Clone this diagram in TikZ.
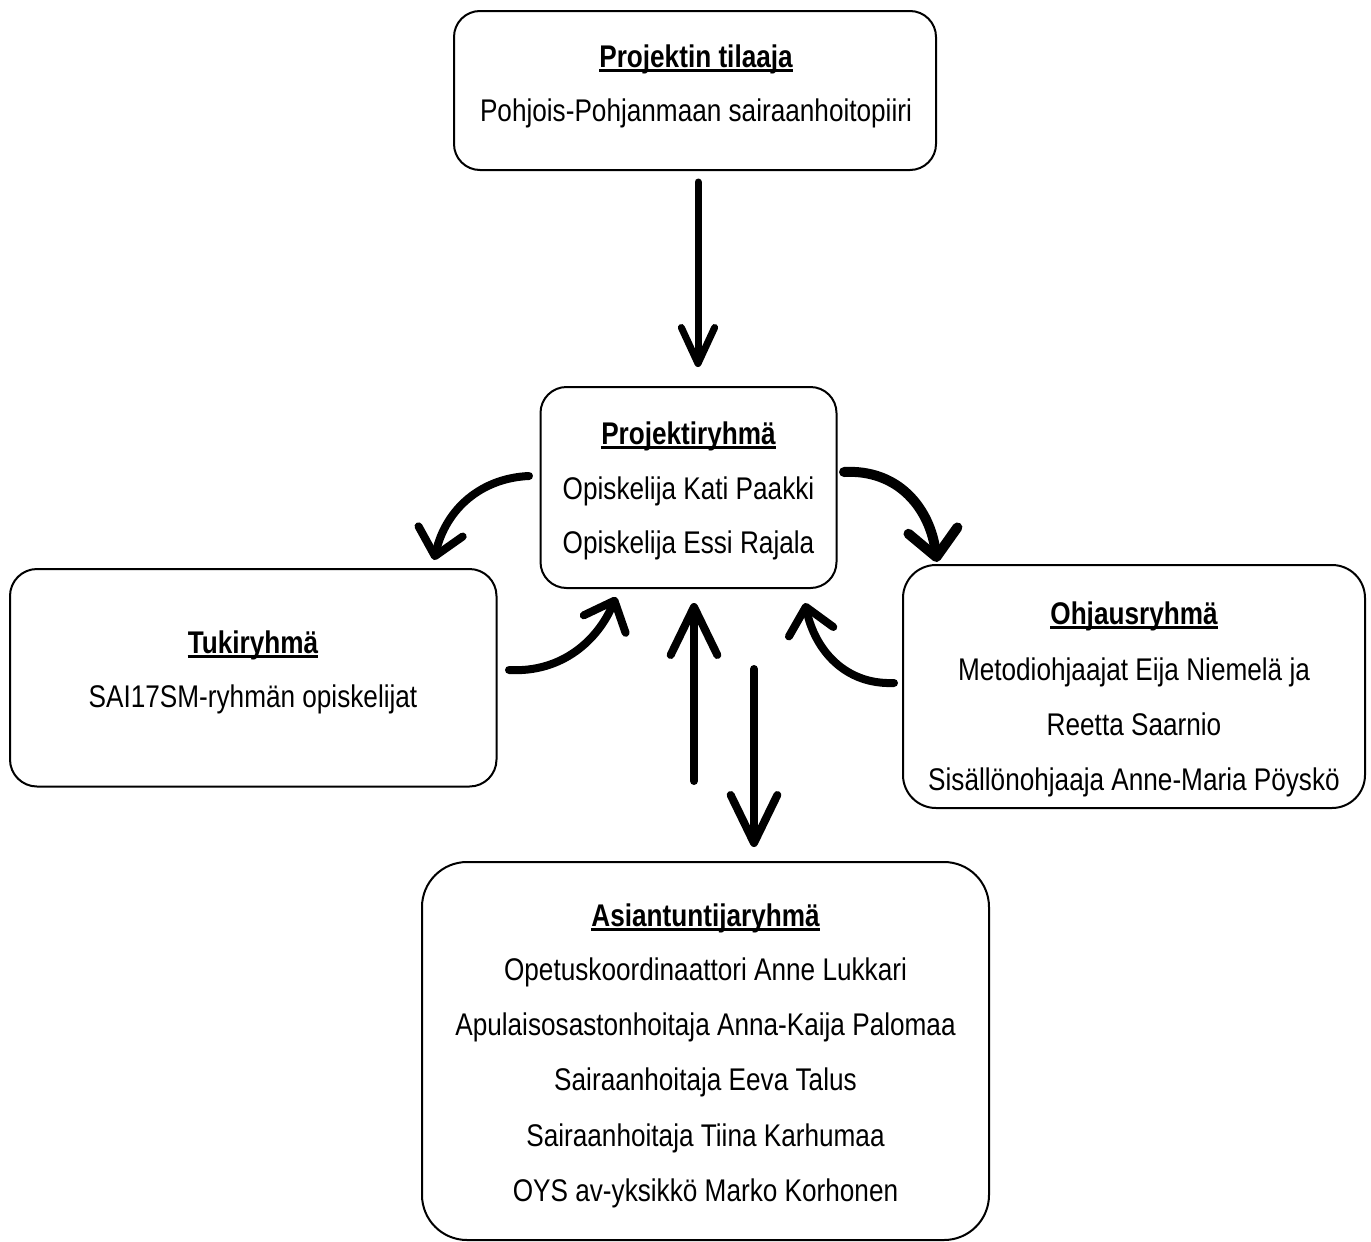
\documentclass[tikz,border=0pt]{standalone}
\usepackage{fontspec}
\setmainfont{Liberation Sans}[FakeStretch=0.835]
\usetikzlibrary{arrows.meta}
\begin{document}
\begin{tikzpicture}[x=0.75pt,y=-0.75pt,
  font=\fontsize{23.5pt}{27pt}\selectfont,
  box/.style={draw=black, line width=1.5pt, fill=white, inner sep=0pt},
  txt/.style={anchor=base, inner sep=0pt},
  ttl/.style={anchor=base, inner sep=0pt, font=\fontsize{23.5pt}{27pt}\selectfont\bfseries},
  uline/.style={line width=2pt},
  sarr/.style={line width=6pt, line cap=round, -{Straight Barb[round, length=36pt, width=35pt]}},
  tarr/.style={line width=5.25pt, line cap=round, -{Straight Barb[round, length=27pt, width=25pt]}},
  carr/.style={line width=6pt, line cap=round, -{Straight Barb[round, length=19pt, width=34pt]}},
  cthick/.style={line width=7.5pt, line cap=round, -{Straight Barb[round, length=20pt, width=37pt]}}
]
\useasboundingbox (0,0) rectangle (1371,1242);

% boxes
\node[box, minimum width=361.5pt, minimum height=119.25pt, rounded corners=19.5pt] (tilaaja) at (695,90.5) {};
\node[box, minimum width=222pt, minimum height=150.75pt, rounded corners=19.5pt] (proj) at (688.5,487.5) {};
\node[box, minimum width=364.875pt, minimum height=163.125pt, rounded corners=20.25pt] (tuki) at (253.25,677.75) {};
\node[box, minimum width=346.5pt, minimum height=182.25pt, rounded corners=24.75pt] (ohj) at (1134,686.5) {};
\node[box, minimum width=425.25pt, minimum height=283.5pt, rounded corners=33.75pt] (asi) at (705.5,1051) {};

% texts
\node[ttl] (tilaajaT) at (696,67) {Projektin tilaaja};
\node[txt] (tilaaja1) at (696,121.7) {Pohjois-Pohjanmaan sairaanhoitopiiri};

\node[ttl] (projT) at (688.5,444) {Projektiryhmä};
\node[txt] (proj1) at (688.5,499) {Opiskelija Kati Paakki};
\node[txt] (proj2) at (688.5,553) {Opiskelija Essi Rajala};

\node[ttl] (tukiT) at (253,653) {Tukiryhmä};
\node[txt] (tuki1) at (253,707) {SAI17SM-ryhmän opiskelijat};

\node[ttl] (ohjT) at (1134,624) {Ohjausryhmä};
\node[txt] (ohj1) at (1134,680) {Metodiohjaajat Eija Niemelä ja};
\node[txt] (ohj2) at (1134,735) {Reetta Saarnio};
\node[txt] (ohj3) at (1134,790) {Sisällönohjaaja Anne-Maria Pöyskö};

\node[ttl] (asiT) at (705.5,926) {Asiantuntijaryhmä};
\node[txt] (asi1) at (705.5,980) {Opetuskoordinaattori Anne Lukkari};
\node[txt] (asi2) at (705.5,1035) {Apulaisosastonhoitaja Anna-Kaija Palomaa};
\node[txt] (asi3) at (705.5,1090) {Sairaanhoitaja Eeva Talus};
\node[txt] (asi4) at (705.5,1146) {Sairaanhoitaja Tiina Karhumaa};
\node[txt] (asi5) at (705.5,1201) {OYS av-yksikkö Marko Korhonen};

\foreach \n in {tilaajaT,projT,tukiT,ohjT,asiT}
  \draw[uline] ([yshift=-2.8pt]\n.base west) -- ([yshift=-2.8pt]\n.base east);

% arrow end points
\coordinate (a0s) at (698,182);
\coordinate (a0e) at (698,367);
\coordinate (upS) at (694,781);
\coordinate (upE) at (694,603);
\coordinate (dnS) at (754,669);
\coordinate (dnE) at (754,847);
\coordinate (lS) at (529,476);
\coordinate (lE) at (434,560);
\coordinate (rS) at (844,472);
\coordinate (rE) at (937,562);
\coordinate (tS) at (509,670);
\coordinate (tE) at (616,597);
\coordinate (oS) at (894,683);
\coordinate (oE) at (805,603);

% arrows
\draw[tarr] (a0s) -- (a0e);
\draw[sarr] (upS) -- (upE);
\draw[sarr] (dnS) -- (dnE);
\draw[carr] (lS) .. controls (482,478) and (446,508) .. (lE);
\draw[cthick] (rS) .. controls (898,469) and (930,508) .. (rE);
\draw[carr] (tS) .. controls (562,673) and (598,640) .. (tE);
\draw[carr] (oS) .. controls (845,685) and (815,650) .. (oE);
\end{tikzpicture}
\end{document}
